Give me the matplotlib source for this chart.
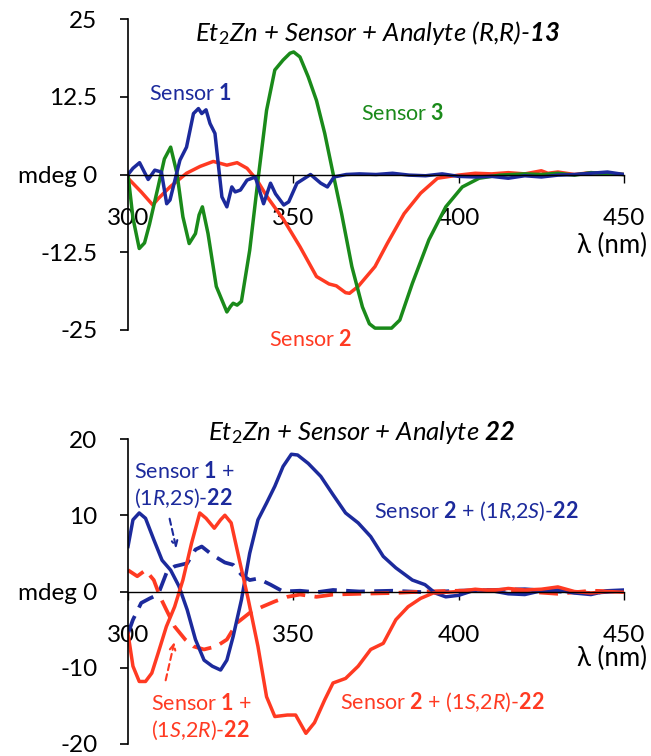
import matplotlib
matplotlib.use('Agg')
import matplotlib.pyplot as plt
import numpy as np

plt.rcParams['font.family'] = ['Lato', 'DejaVu Sans']
plt.rcParams['mathtext.fontset'] = 'custom'
plt.rcParams['mathtext.rm'] = 'Lato'
plt.rcParams['mathtext.it'] = 'Lato:italic'
plt.rcParams['mathtext.bf'] = 'Lato:bold'
plt.rcParams['mathtext.bfit'] = 'Lato:italic:bold'

BLUE = '#1c2a9c'
RED = '#ff3a22'
GREEN = '#1a8a1a'

# ---- top panel: Et2Zn + Sensor + Analyte (R,R)-13
s1_x = [300, 301.5, 303.5, 306.1, 308.1, 310.1, 311.7, 312.7, 314.2, 315.7, 317.7, 319.8, 321.3,
        322.3, 323.6, 324.8, 326.3, 327.4, 328.4, 329.9, 331.4, 332.4, 334, 336, 338.5, 341, 343.1,
        344.6, 347.1, 348.6, 351.1, 355.2, 358.3, 360.3, 362.3, 366, 370, 375, 380, 385, 390, 395,
        400, 405, 410, 415, 420, 425, 430, 435, 440, 445, 450]
s1_y = [0, 1.0, 1.9, -0.8, 0.7, 0.4, -4.7, -4.1, -0.9, 2.3, 4.4, 9.8, 10.6,
        9.8, 10.4, 8.2, 6.6, 1.2, -3.6, -5.2, -2.0, -2.8, -2.5, -0.9, -0.4, -4.7, -1.4,
        -3.1, -4.9, -4.4, -1.4, 0.0, -1.4, -2.0, -0.4, 0.0, 0.1, 0.0, 0.2, -0.1, -0.2, 0.1,
        -0.3, -0.4, -0.3, -0.6, -0.2, -0.4, -0.1, 0.0, 0.2, 0.4, 0.0]

s2_x = [300, 304, 307.5, 309.1, 312.7, 317.7, 321.8, 325.8, 329.9, 333, 336, 339, 342.1, 347.1,
        352, 357, 360.8, 363, 365.8, 367, 369.6, 374.7, 378.4, 383.5, 388.5, 393.6, 399.9, 405,
        410, 415, 420, 425, 427, 430, 435, 440, 445, 450]
s2_y = [-0.6, -2.8, -4.9, -3.9, -2.0, 0.2, 1.3, 2.1, 1.5, 1.9, 1.0, -0.9, -3.6, -7.3,
        -11.6, -16.4, -17.6, -17.9, -19.0, -19.1, -18.0, -14.8, -11.1, -6.3, -3.0, -0.6, -0.1, 0.2,
        0.1, 0.3, 0.1, 0.6, 0.2, 0.4, 0.0, 0.3, 0.2, 0.0]

s3_x = [300, 301.5, 303.4, 305, 306.5, 309.1, 311, 312.9, 314.8, 316.6, 318.5, 320.4, 321.5, 322.5,
        324.2, 326.7, 329.9, 331, 331.8, 333, 334.3, 336.8, 339.3, 341.9, 344.4, 346.9, 349, 350.1,
        352, 354.5, 357, 359.5, 362, 364.6, 367.7, 370.9, 373, 374.7, 379.7, 382.2, 386, 391,
        396.1, 401.1, 406.2, 412.5, 420, 425, 430, 435, 440, 445, 450]
s3_y = [0, -7, -11.9, -11.0, -8, -2, 2.5, 4.4, 0.2, -6.8, -11.1, -9.5, -6.5, -5.2,
        -9.5, -18, -22.1, -21.2, -20.7, -21, -20.4, -12.2, -0.9, 10.3, 16.8, 18.4, 19.5, 19.7,
        18.9, 15.7, 11.9, 6.6, 0.2, -6.3, -14.8, -21.3, -24, -24.7, -24.7, -23.4, -17.5, -10.5,
        -5.2, -2.0, -0.6, -0.1, 0.1, 0.0, 0.2, -0.1, 0.3, 0.1, 0.0]

# ---- bottom panel: Et2Zn + Sensor + Analyte 22
b_s2_rs_x = [300, 301.5, 303.4, 305.3, 307.8, 310.3, 312.9, 315.4, 317.9, 320.4, 323, 325.5, 328,
             329.9, 331.8, 334.3, 336.8, 339.3, 341.9, 344.4, 346.9, 349.4, 351.3, 354.5, 358.3,
             362, 365.8, 369.6, 373.4, 377.2, 381, 386, 389.8, 392.9, 396.1, 400, 405, 410, 415,
             420, 425, 430, 435, 440, 445, 450]
b_s2_rs_y = [5.9, 9.4, 10.3, 9.6, 6.8, 4.1, 2.8, 0.7, -2.4, -6.3, -9.0, -9.8, -10.3,
             -9.0, -5.9, -1.1, 5.0, 9.4, 11.6, 13.8, 16.4, 18.0, 17.9, 16.8, 15.1,
             12.7, 10.3, 9.0, 7.2, 4.6, 3.1, 1.5, 0.9, -0.2, -0.7, -0.5, 0.2, 0.1, -0.3,
             -0.4, 0.1, 0.2, -0.2, -0.4, 0.1, 0.2]

b_s1_rs_x = [300, 301.5, 304, 306.6, 309.1, 311.6, 314.1, 317.9, 320.4, 322.3, 325.5, 329.3, 331.8,
             334.3, 336.8, 339.3, 343.1, 346.9, 352, 357, 362, 370, 380, 390, 400, 410, 420, 430,
             440, 450]
b_s1_rs_y = [-5.5, -3.7, -1.5, -0.9, -0.4, 2.4, 3.3, 3.7, 5.5, 5.9, 4.8, 3.8, 3.5,
             2.2, 1.5, 1.7, 0.9, 0.0, 0.1, -0.1, 0.2, 0.0, 0.1, -0.1, 0.1, 0.2, 0.3, 0.0,
             -0.2, 0.1]

b_s2_sr_x = [300, 301.5, 303.4, 305.3, 307.2, 309.1, 311.6, 314.1, 316.6, 319.2, 321.7, 323.6, 326.1,
             328, 329.3, 331.2, 333.7, 336.2, 339.3, 341.9, 344.4, 348.2, 350.7, 353.8, 356.4,
             359.5, 362, 365.8, 369.6, 373.4, 377.2, 381, 384.7, 388.5, 392.3, 400, 405, 410, 415,
             420, 425, 430, 435, 440, 445, 450]
b_s2_sr_y = [-5.5, -9.8, -11.8, -11.8, -10.7, -8.1, -4.6, -2.0, 1.5, 6.3, 10.3, 9.6, 8.3,
             9.4, 10.0, 9.0, 4.1, -0.7, -7.2, -13.8, -16.4, -16.2, -16.2, -18.6, -17.2,
             -14.2, -12.0, -11.4, -9.8, -7.6, -6.8, -3.7, -2.0, -0.9, -0.2, 0.0, 0.3, 0.1, 0.4,
             0.2, 0.3, 0.6, 0.0, -0.2, 0.0, -0.1]

b_s1_sr_x = [300, 302.8, 305.3, 307.8, 309.7, 311.6, 314.1, 317.3, 319.8, 323, 326.7, 329.9, 333,
             336.8, 340.6, 344.4, 348.2, 352, 357, 362, 370, 380, 390, 400, 410, 420, 430, 440, 450]
b_s1_sr_y = [2.8, 2.0, 2.8, 1.5, -0.7, -2.4, -4.6, -6.3, -7.2, -7.6, -7.2, -6.3, -4.1,
             -2.8, -2.0, -1.3, -0.7, -0.4, -0.7, -0.4, -0.3, -0.2, 0.0, 0.1, 0.2, 0.0, -0.3, 0.1,
             0.0]

top_ticks = [-25, -12.5, 0, 12.5, 25]
top_ticklabels = ['-25', '-12.5', 'mdeg 0', '12.5', '25']
bot_ticks = [-20, -10, 0, 10, 20]
bot_ticklabels = ['-20', '-10', 'mdeg 0', '10', '20']
x_ticks = [300, 350, 400, 450]

W, H = 651, 756
fig = plt.figure(figsize=(W / 100, H / 100), dpi=100)


def px(x, y):
    return x / W, 1 - y / H


def style_axes(ax, yticks, ylabels):
    ax.set_xlim(300, 450)
    ax.set_ylim(yticks[0], yticks[-1])
    ax.spines['top'].set_visible(False)
    ax.spines['right'].set_visible(False)
    ax.spines['bottom'].set_position(('data', 0))
    ax.spines['left'].set_linewidth(1.2)
    ax.spines['bottom'].set_linewidth(1.0)
    ax.set_yticks(yticks)
    ax.set_yticklabels(ylabels)
    ax.set_xticks(x_ticks)
    ax.tick_params(axis='y', direction='out', length=6, width=1.2, pad=16, labelsize=17.5)
    ax.tick_params(axis='x', direction='out', length=6, width=1.0, pad=18, labelsize=17.5)
    ax.patch.set_alpha(0)


# top panel
ax1 = fig.add_axes([128 / W, 1 - 330 / H, 496 / W, 311 / H])
ax1.plot(s2_x, s2_y, color=RED, lw=2.5)
ax1.plot(s3_x, s3_y, color=GREEN, lw=2.5)
ax1.plot(s1_x, s1_y, color=BLUE, lw=2.5)
style_axes(ax1, top_ticks, top_ticklabels)

fig.text(*px(378, 33), r'Et$_\mathit{2}$Zn + Sensor + Analyte (R,R)-$\mathbfit{13}$',
         style='italic', fontsize=18.5, ha='center', va='center')
fig.text(*px(190, 93), r'Sensor $\mathbf{1}$', color=BLUE, fontsize=15.5, ha='center', va='center')
fig.text(*px(403, 113), r'Sensor $\mathbf{3}$', color=GREEN, fontsize=15.5, ha='center', va='center')
fig.text(*px(311, 340), r'Sensor $\mathbf{2}$', color=RED, fontsize=15.5, ha='center', va='center')
fig.text(*px(612, 245), 'λ (nm)', fontsize=18.5, ha='center', va='center')

# bottom panel
ax2 = fig.add_axes([128 / W, 1 - 744 / H, 496 / W, 305 / H])
ax2.plot(b_s1_rs_x, b_s1_rs_y, color=BLUE, lw=2.7, dashes=(5, 2.5))
ax2.plot(b_s1_sr_x, b_s1_sr_y, color=RED, lw=2.7, dashes=(5, 2.5))
ax2.plot(b_s2_rs_x, b_s2_rs_y, color=BLUE, lw=2.5)
ax2.plot(b_s2_sr_x, b_s2_sr_y, color=RED, lw=2.5)
style_axes(ax2, bot_ticks, bot_ticklabels)

ax2.annotate('', xy=(314.8, 5.3), xytext=(312.4, 9.9),
             arrowprops=dict(arrowstyle='->', color=BLUE, lw=1.5, ls=(0, (3, 2))))
ax2.annotate('', xy=(314.2, -6.3), xytext=(311.2, -12.0),
             arrowprops=dict(arrowstyle='->', color=RED, lw=1.5, ls=(0, (3, 2))))

fig.text(*px(362, 432), r'Et$_\mathit{2}$Zn + Sensor + Analyte $\mathbfit{22}$',
         style='italic', fontsize=18.5, ha='center', va='center')
fig.text(*px(134, 472), r'Sensor $\mathbf{1}$ +', color=BLUE, fontsize=15.5, ha='left', va='center')
fig.text(*px(134, 498), r'(1$\mathit{R}$,2$\mathit{S}$)-$\mathbf{22}$', color=BLUE, fontsize=15.5,
         ha='left', va='center')
fig.text(*px(476, 511), r'Sensor $\mathbf{2}$ + (1$\mathit{R}$,2$\mathit{S}$)-$\mathbf{22}$',
         color=BLUE, fontsize=15.5, ha='center', va='center')
fig.text(*px(151, 703), r'Sensor $\mathbf{1}$ +', color=RED, fontsize=15.5, ha='left', va='center')
fig.text(*px(151, 730), r'(1$\mathit{S}$,2$\mathit{R}$)-$\mathbf{22}$', color=RED, fontsize=15.5,
         ha='left', va='center')
fig.text(*px(442, 702), r'Sensor $\mathbf{2}$ + (1$\mathit{S}$,2$\mathit{R}$)-$\mathbf{22}$',
         color=RED, fontsize=15.5, ha='center', va='center')
fig.text(*px(612, 658), 'λ (nm)', fontsize=18.5, ha='center', va='center')

fig.savefig('out.png', dpi=100)
